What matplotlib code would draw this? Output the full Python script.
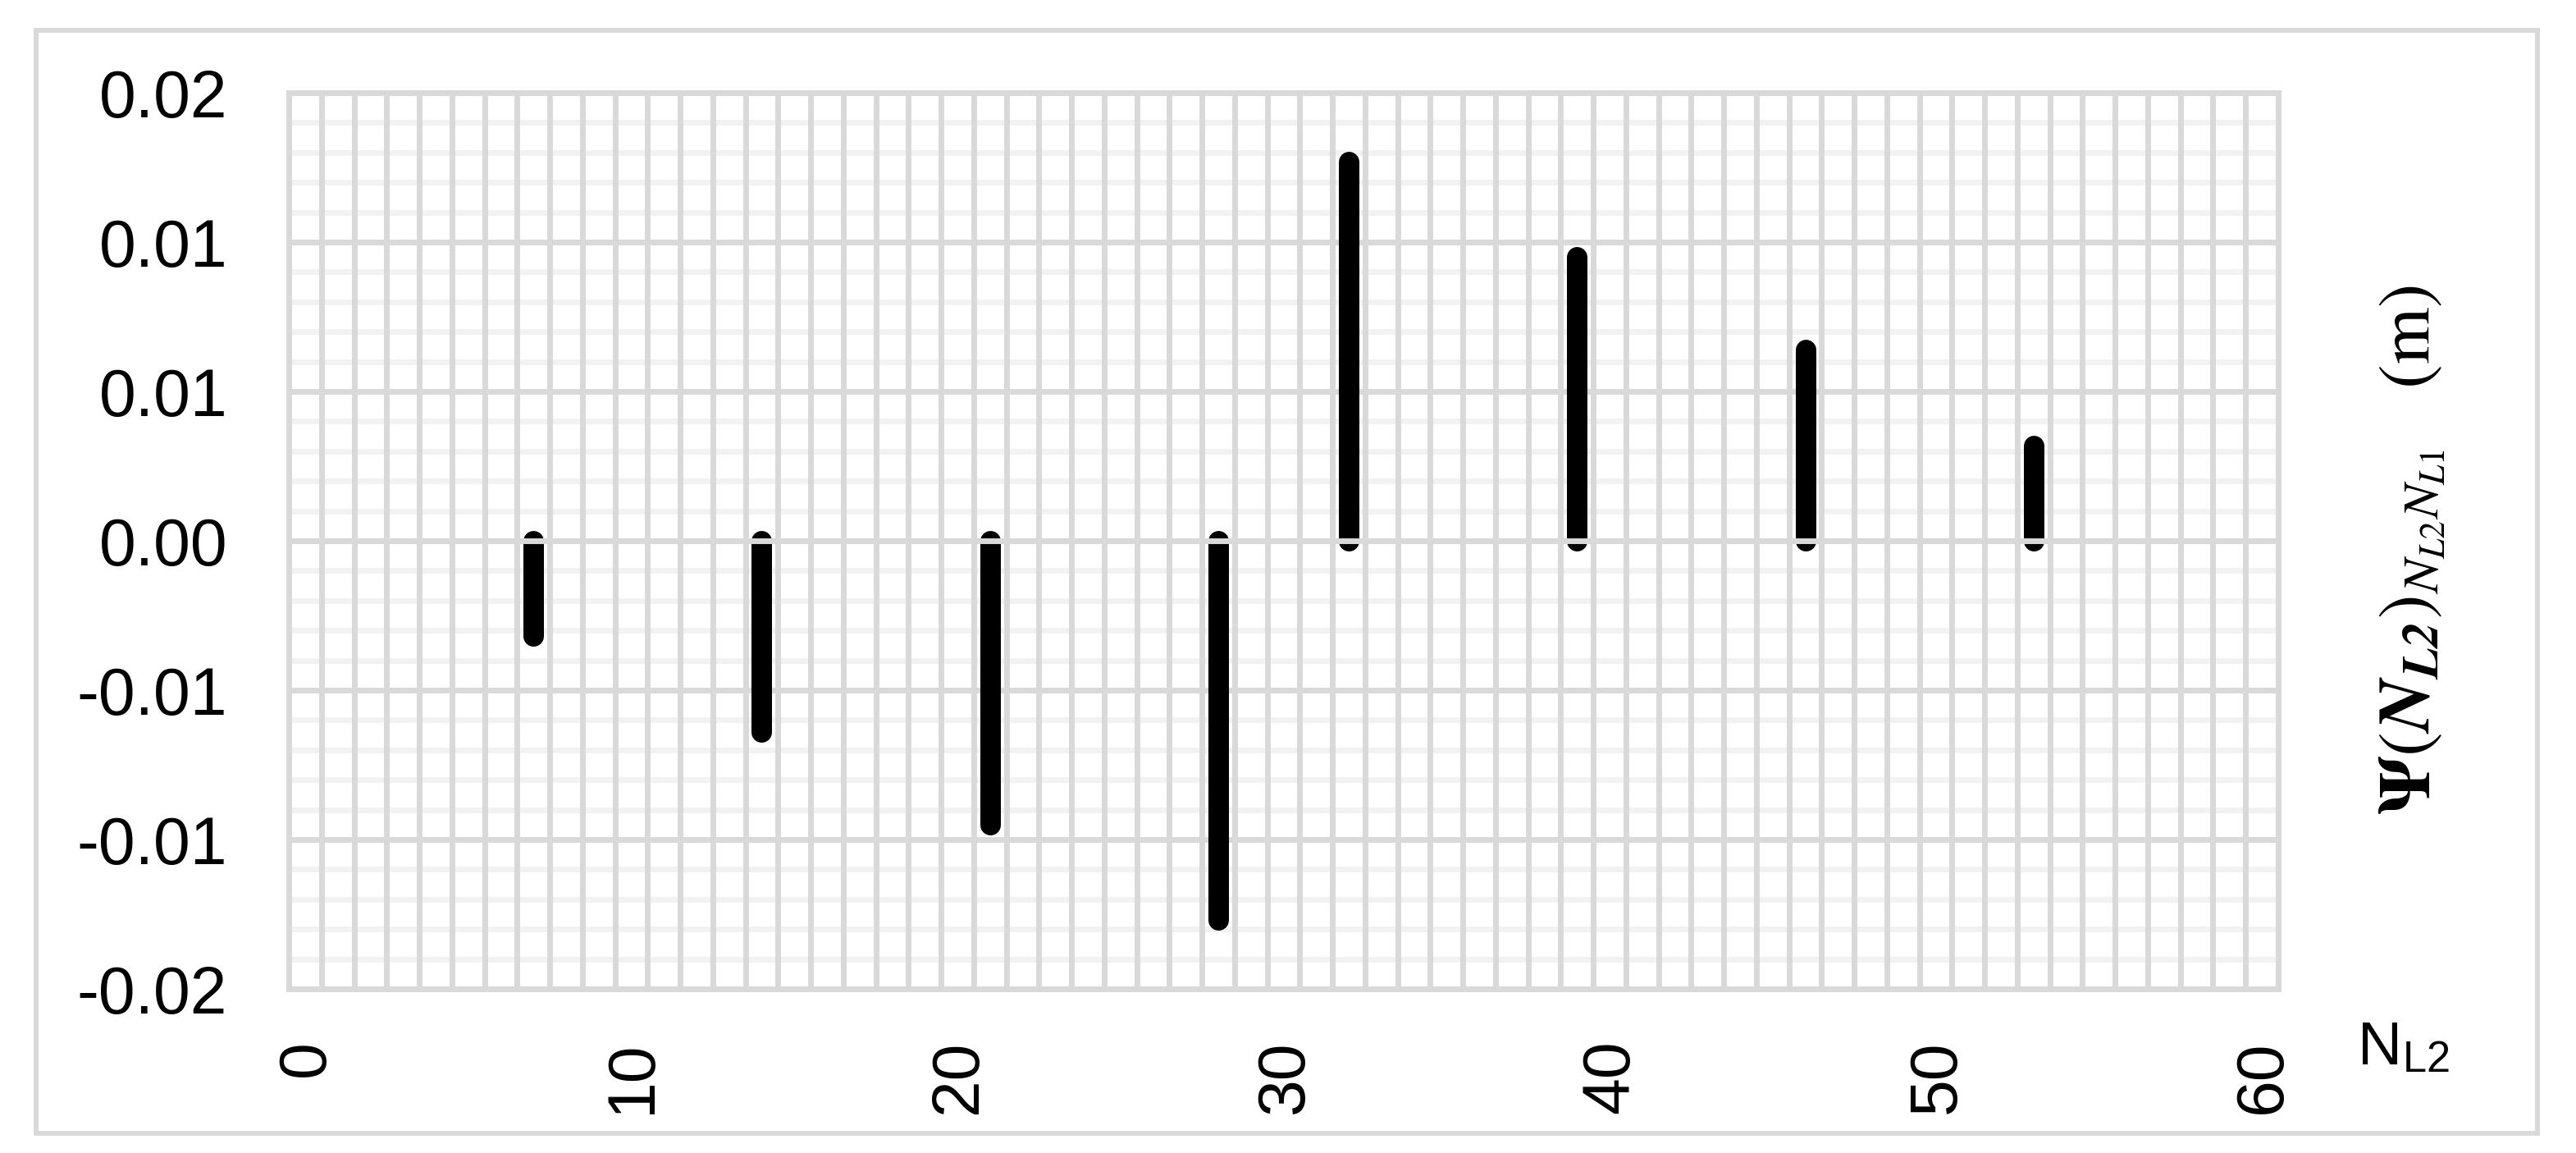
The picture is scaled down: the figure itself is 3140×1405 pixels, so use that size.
import matplotlib
matplotlib.use("Agg")
import matplotlib.pyplot as plt
import matplotlib.transforms as mtransforms
from matplotlib.patches import Rectangle
from matplotlib.ticker import MultipleLocator

plt.rcParams['font.family'] = ['Liberation Sans', 'DejaVu Sans']
plt.rcParams['mathtext.fontset'] = 'stix'

# Data (category axis 0..60)
n_l2 = [7, 14, 21, 28, 32, 39, 46, 53]
psi = [-0.0032, -0.0064, -0.0095, -0.0127, 0.0127, 0.0095, 0.0064, 0.0032]

xticks = [0, 10, 20, 30, 40, 50, 60]
xtick_labels = ["0", "10", "20", "30", "40", "50", "60"]
yticks = [-0.015, -0.010, -0.005, 0.0, 0.005, 0.010, 0.015]
ytick_labels = ["-0.02", "-0.01", "-0.01", "0.00", "0.01", "0.01", "0.02"]

GRID_MAJOR = '#d9d9d9'
GRID_MINOR = '#f2f2f2'

fig = plt.figure(figsize=(31.4, 14.05), dpi=100)
ax = fig.add_axes([352/3140, 1 - 1205/1405, 2425/3140, 1092/1405])

# outer chart border
fig.patches.append(Rectangle((44/3140, 1 - 1381/1405), (3093-44)/3140, (1381-37)/1405,
                             transform=fig.transFigure, fill=False,
                             edgecolor=GRID_MAJOR, linewidth=4.3, zorder=0))

ax.vlines(n_l2, 0, psi, colors='black', linewidth=18, capstyle='round', zorder=2)
ax.axhline(0, color=GRID_MAJOR, linewidth=5, zorder=3)

ax.set_xlim(-0.5, 60.5)
ax.set_ylim(-0.015, 0.015)
ax.set_xticks(xticks, xtick_labels, rotation=90)
ax.set_yticks(yticks, ytick_labels)
ax.xaxis.set_minor_locator(MultipleLocator(1, offset=0.5))
ax.yaxis.set_minor_locator(MultipleLocator(0.001))

ax.xaxis.grid(False, which='major')
ax.xaxis.grid(True, which='minor', color=GRID_MAJOR, linewidth=5)
ax.yaxis.grid(True, which='major', color=GRID_MAJOR, linewidth=5)
ax.yaxis.grid(True, which='minor', color=GRID_MINOR, linewidth=5)
ax.set_axisbelow(True)
ax.yaxis.set_zorder(0.4)
ax.xaxis.set_zorder(0.5)

for s in ax.spines.values():
    s.set_color(GRID_MAJOR)
    s.set_linewidth(5)
    s.set_zorder(0.6)

ax.tick_params(which='both', length=0)
ax.tick_params(axis='y', labelsize=58, pad=54)
ax.tick_params(axis='x', labelsize=58, pad=45)

offset = mtransforms.ScaledTranslation(0.02, 0, fig.dpi_scale_trans)
for lab in ax.get_xticklabels():
    lab.set_transform(lab.get_transform() + offset)

ax.set_xlabel(r"N$_{\mathregular{L2}}$", fontsize=54, ha='left', va='top')
ax.xaxis.set_label_coords(1.0396, -0.035)

ax.set_ylabel(r"$\mathbf{\Psi}(\mathbfit{N}_{\mathbfit{L2}})_{N_{L2}N_{L1}}\quad\mathrm{(m)}$",
              fontsize=64, rotation=90, ha='center', va='center', rotation_mode='default')
ax.yaxis.set_label_position('right')
ax.yaxis.set_label_coords(1.05, 0.49)

fig.savefig("out.png", dpi=100)
